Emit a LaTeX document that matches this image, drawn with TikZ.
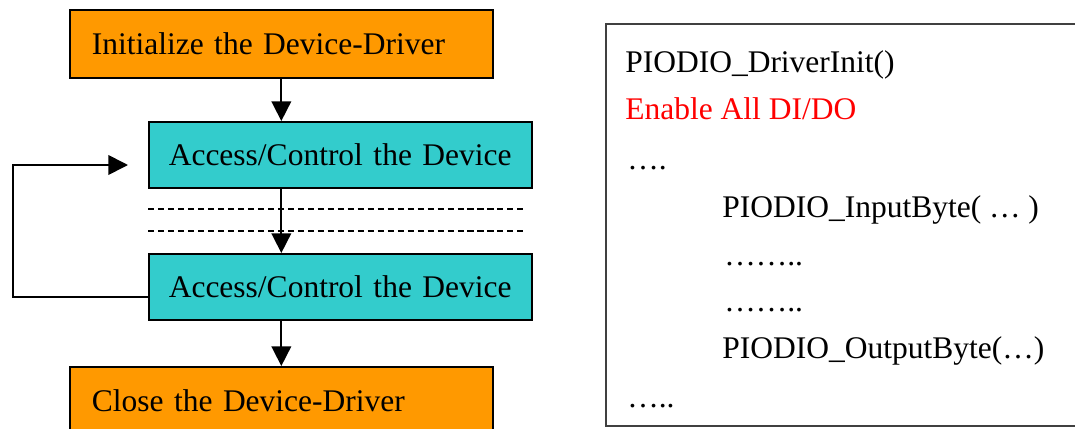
\documentclass[tikz,border=0pt]{standalone}
\usepackage{fontspec}
\setmainfont{Liberation Serif}
\usetikzlibrary{arrows.meta}

\definecolor{boxorange}{HTML}{FF9900}
\definecolor{boxcyan}{HTML}{33CCCC}
\definecolor{framegray}{HTML}{404040}

\begin{document}
\begin{tikzpicture}[x=0.025cm, y=-0.025cm,
  every node/.style={font=\fontsize{22.4pt}{27pt}\selectfont},
  stepbox/.style={draw=black, line width=1.1pt, rectangle, align=left, anchor=north west, inner ysep=0pt},
  outerbox/.style={stepbox, fill=boxorange, text width=9.475cm, inner xsep=0.55cm, minimum height=1.7cm},
  innerbox/.style={stepbox, fill=boxcyan, text width=8.575cm, inner xsep=0.5cm, minimum height=1.65cm},
  flow/.style={line width=1.2pt, -{Triangle[width=14pt, length=14pt]}},
  gapline/.style={line width=1.1pt, dash pattern=on 4.3pt off 2.8pt},
  code/.style={anchor=base west, inner sep=0pt}]

% Fix the size of the picture
\useasboundingbox (0,0) rectangle (1075,428);
\clip (0,0) rectangle (1075,428);

% Place the steps of the flowchart
\node[outerbox] (init) at (69,9) {Initialize the Device-Driver};
\node[innerbox] (acc1) at (148,121) {Access/Control the Device};
\node[innerbox] (acc2) at (148,253) {Access/Control the Device};
\node[outerbox] (close) at (69,366) {Close the Device-Driver};

% Draw the dashed gap between the two access steps
\draw[gapline] (148,209) -- (527,209);
\draw[gapline] (148,231) -- (527,231);

% Draw the arrows
\draw[flow] (init.south) -- (init.south |- acc1.north);
\draw[flow] (init.south |- acc1.south) -- (init.south |- acc2.north);
\draw[flow] (init.south |- acc2.south) -- (init.south |- close.north);

\coordinate (loopend) at (128,165);
\draw[flow] (acc2.west |- 0,297) -| (13,165) -- (loopend);

% Draw the frame of the program outline
\draw[line width=1.4pt, draw=framegray] (606,24) rectangle (1090,426);

% Write the lines of the program
\node[code] (drvinit) at (625,72) {PIODIO\_DriverInit()};
\node[code, text=red] (enable) at (625,119) {Enable All DI/DO};
\node[code] (dotsa) at (627,169) {….};
\node[code] (inbyte) at (722,217) {PIODIO\_InputByte( … )};
\node[code] (dotsb) at (724,265) {……..};
\node[code] (dotsc) at (724,311) {……..};
\node[code] (outbyte) at (722,358) {PIODIO\_OutputByte(…)};
\node[code] (dotsd) at (627,407) {…..};

\end{tikzpicture}
\end{document}
